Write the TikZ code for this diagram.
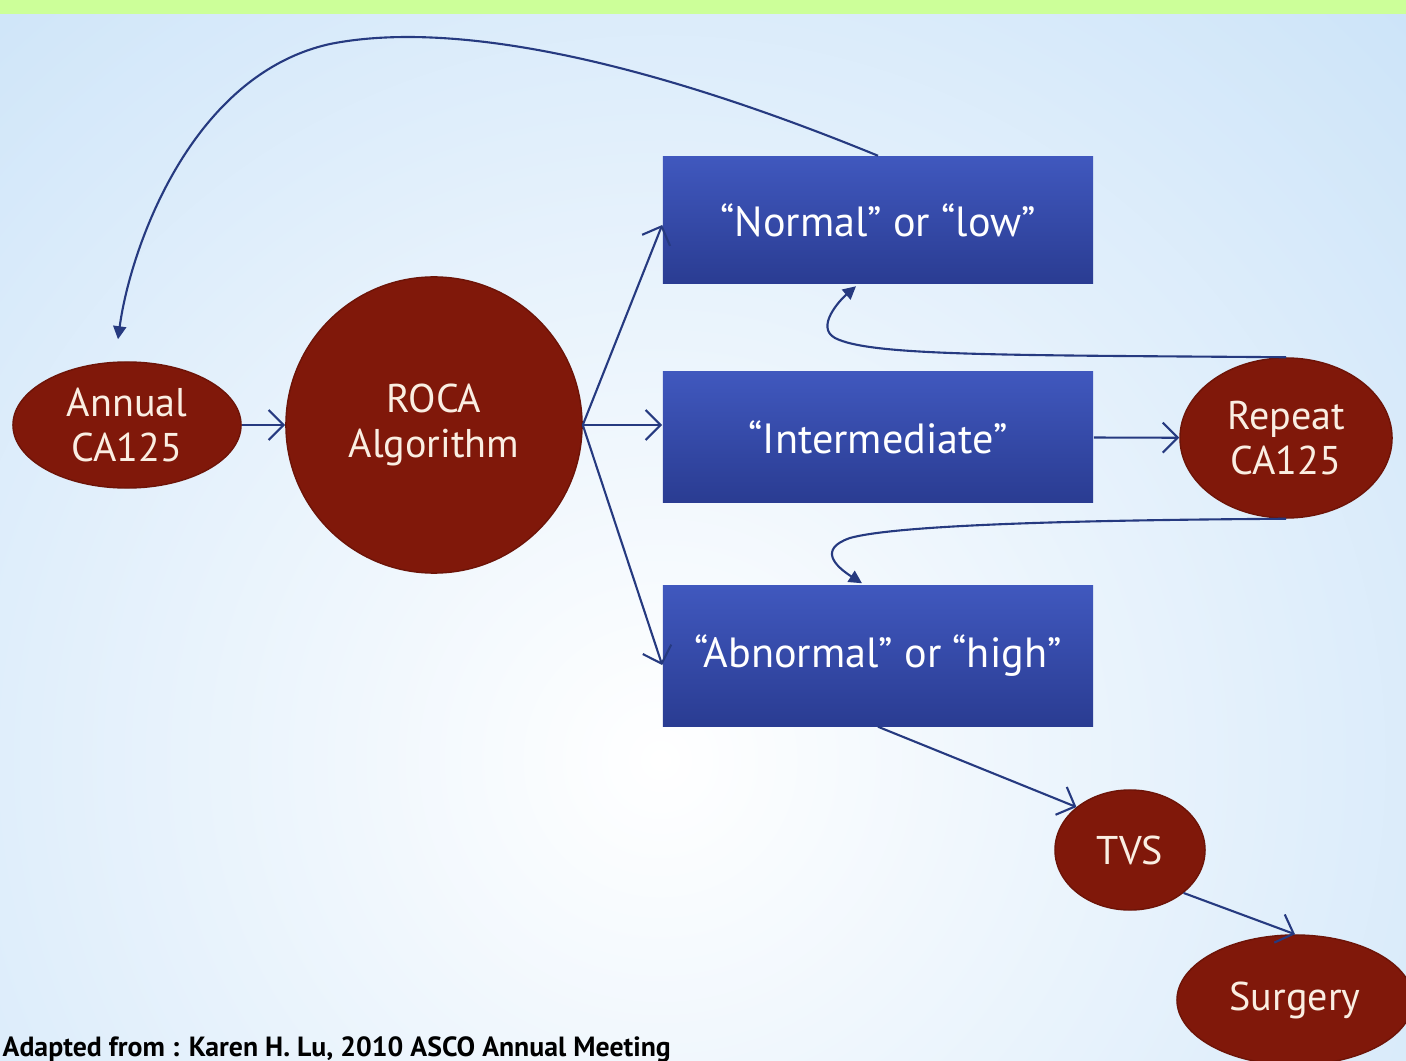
\documentclass[tikz,border=0pt]{standalone}
\usepackage{fontspec}
\setmainfont{PT Sans}
\usepackage{tikz}
\usetikzlibrary{arrows.meta,positioning,calc,shapes}
\definecolor{slidegreen}{RGB}{204,255,153}
\definecolor{bgblue}{RGB}{186,218,246}
\definecolor{testred}{RGB}{128,24,10}
\definecolor{boxtop}{RGB}{64,88,190}
\definecolor{boxbot}{RGB}{42,60,146}
\definecolor{linkblue}{RGB}{38,58,128}
\definecolor{cream}{RGB}{250,238,226}
\tikzset{test/.style={ellipse, fill=testred, draw=testred!85!black, text=cream, align=center, inner sep=0pt, font=\fontsize{11.4}{12.8}\selectfont},
  result/.style={rectangle, top color=boxtop, bottom color=boxbot, text=white, minimum width=4.3cm, align=center, font=\fontsize{12}{13.5}\selectfont},
  link/.style={linkblue, semithick, -{Straight Barb[length=1.5mm,width=3mm]}},
  loopback/.style={linkblue, semithick, -{Triangle[length=1.3mm,width=1.3mm]}}}

\begin{document}
\begin{tikzpicture}[x=0.01cm,y=-0.01cm]
\useasboundingbox (0,0) rectangle (1406,1061);
% slide background
\fill[bgblue] (0,0) rectangle (1406,1061);
\begin{scope}
  \clip (0,14) rectangle (1406,1061);
  \shade[inner color=white, outer color=bgblue] (660,760) circle (1450);
\end{scope}
\fill[slidegreen] (0,0) rectangle (1406,14);

% nodes
\node[test, minimum width=2.28cm, minimum height=1.26cm] (annual) at (127,425) {Annual\\CA125};
\node[test, circle, minimum size=2.96cm] (roca) at (434,425) {ROCA\\Algorithm};
\node[result, minimum height=1.27cm] (normal) at (878,220) {“Normal” or “low”};
\node[result, minimum height=1.30cm] (intermediate) at (878,437) {“Intermediate”};
\node[result, minimum height=1.40cm] (abnormal) at (878,656) {“Abnormal” or “high”};
\node[test, minimum width=2.12cm, minimum height=1.60cm] (repeat) at (1286,438) {Repeat\\CA125};
\node[test, minimum width=1.50cm, minimum height=1.20cm] (tvs) at (1130,850) {TVS};
\node[test, minimum width=2.36cm, minimum height=1.30cm] (surgery) at (1295,1000) {Surgery};
\node[anchor=base west, inner sep=0pt, font=\bfseries\fontsize{7.9}{9}\selectfont] (credit) at (2,1056) {Adapted from : Karen H. Lu, 2010 ASCO Annual Meeting};

% connectors
\draw[link] (annual) -- (roca);
\draw[link] (roca.east) -- ($(normal.west)+(0,5)$);
\draw[link] (roca.east) -- (intermediate.west |- roca.east);
\draw[link] (roca.east) -- ($(abnormal.west)+(0,9)$);
\draw[link] (intermediate) -- (repeat);
\draw[link] (abnormal.south) -- (tvs.north west);
\draw[link] (tvs.south east) -- (surgery.north);
\draw[loopback] (normal.north) .. controls (620,50) and (440,22) .. (330,44)
  .. controls (190,75) and (130,250) .. ($(annual.north)+(-9,-22)$);
\draw[loopback] (repeat.north) .. controls (1000,355) and (870,356) .. (835,338)
  .. controls (815,327) and (840,300) .. ($(normal.south)+(-22,2)$);
\draw[loopback] (repeat.south) .. controls (1100,520) and (900,524) .. (850,538)
  .. controls (818,549) and (835,566) .. ($(abnormal.north)+(-16,-2)$);
\end{tikzpicture}
\end{document}
